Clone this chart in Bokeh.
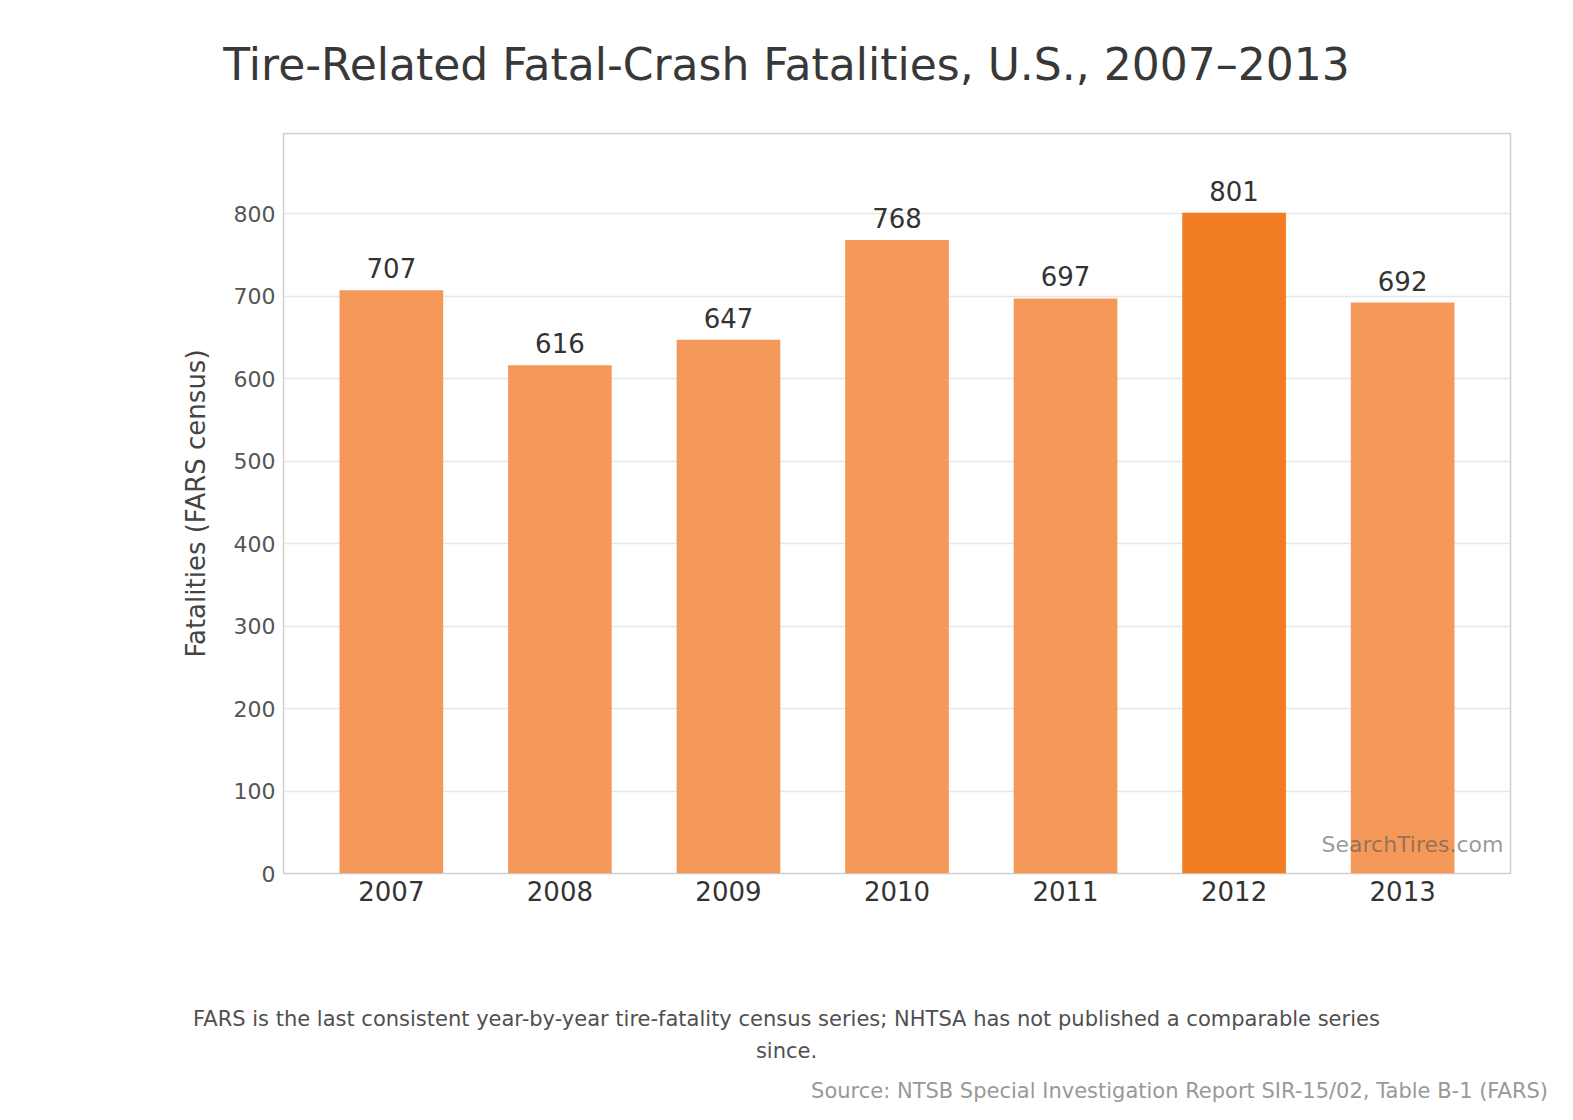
from bokeh.plotting import figure
from bokeh.models import Label, Range1d, FixedTicker, ColumnDataSource, Div
from bokeh.layouts import column
from bokeh.embed import file_html
from bokeh.resources import INLINE

years = ["2007", "2008", "2009", "2010", "2011", "2012", "2013"]
fatalities = [707, 616, 647, 768, 697, 801, 692]
highlight_year = "2012"
y_ticks = [0, 100, 200, 300, 400, 500, 600, 700, 800]

title_text = "Tire-Related Fatal-Crash Fatalities, U.S., 2007\u20132013"
note_line1 = "FARS is the last consistent year-by-year tire-fatality census series; NHTSA has not published a comparable series"
note_line2 = "since."
source_text = "Source: NTSB Special Investigation Report SIR-15/02, Table B-1 (FARS)"
watermark = "SearchTires.com"

FONT = "DejaVu Sans"
W = 1573
TOP_H = 110          # title block height
FIG_H = 850          # figure block height
BOT_H = 1120 - TOP_H - FIG_H
FL, FR = 283, 1510   # frame left/right (page px)
FT, FB = 133, 873    # frame top/bottom (page px)

xs = list(range(len(years)))
colors = ["#F27C22" if y == highlight_year else "#F5995A" for y in years]
src = ColumnDataSource(dict(x=xs, top=fatalities, color=colors,
                            lab=[str(v) for v in fatalities]))

p = figure(width=W, height=FIG_H, output_backend="svg", toolbar_location=None,
           x_range=Range1d(-0.64, len(years) - 1 + 0.64),
           y_range=Range1d(0, 897),
           min_border_left=FL, min_border_right=W - FR,
           min_border_top=FT - TOP_H, min_border_bottom=TOP_H + FIG_H - FB)
p.background_fill_color = "white"
p.border_fill_color = "white"
p.outline_line_color = "#cfcfcf"
p.outline_line_width = 1.5

p.vbar(x="x", top="top", width=0.615, bottom=0, color="color", line_color=None, source=src)
p.text(x="x", y="top", text="lab", source=src, y_offset=-22,
       text_align="center", text_baseline="alphabetic",
       text_font={"value": FONT}, text_font_size="26px", text_color="#333333")

p.xgrid.grid_line_color = None
p.ygrid.grid_line_color = "#e6e6e6"
p.ygrid.grid_line_width = 1.5

p.xaxis.ticker = FixedTicker(ticks=xs)
p.xaxis.major_label_overrides = {i: y for i, y in enumerate(years)}
p.xaxis.major_label_text_font = FONT
p.xaxis.major_label_text_font_size = "26px"
p.xaxis.major_label_text_color = "#333333"
p.xaxis.major_label_standoff = 7

p.yaxis.ticker = FixedTicker(ticks=y_ticks)
p.yaxis.major_label_text_font = FONT
p.yaxis.major_label_text_font_size = "22px"
p.yaxis.major_label_text_color = "#555555"
p.yaxis.major_label_standoff = 8
p.yaxis.axis_label = "Fatalities (FARS census)"
p.yaxis.axis_label_text_font = FONT
p.yaxis.axis_label_text_font_size = "26px"
p.yaxis.axis_label_text_font_style = "normal"
p.yaxis.axis_label_text_color = "#444444"
p.yaxis.axis_label_standoff = 20

for ax in (p.xaxis, p.yaxis):
    ax.axis_line_color = None
    ax.major_tick_line_color = None
    ax.minor_tick_line_color = None
    ax.major_tick_out = 0
    ax.major_tick_in = 0
    ax.minor_tick_out = 0
    ax.minor_tick_in = 0

p.add_layout(Label(x=FR - FL - 7, y=29, x_units="screen", y_units="screen",
                   text=watermark, text_font=FONT, text_font_size="22px",
                   text_color="#555555", text_alpha=0.6,
                   text_align="right", text_baseline="middle"))


def line_html(text, top, size, color, align="center", right=None):
    if align == "center":
        pos = "left:0;width:%dpx;text-align:center;" % W
    else:
        pos = "right:%dpx;text-align:right;" % right
    return ('<div style="position:absolute;%s top:%dpx;transform:translateY(-50%%);'
            'font-family:\'%s\';font-size:%s;color:%s;white-space:nowrap;line-height:1.2;">%s</div>'
            % (pos, top, FONT, size, color, text))


title_div = Div(width=W, height=TOP_H, margin=0,
                text='<div style="position:relative;width:%dpx;height:%dpx;">%s</div>'
                % (W, TOP_H, line_html(title_text, 65, "44px", "#383838")))

y0 = TOP_H + FIG_H
foot_div = Div(width=W, height=BOT_H, margin=0,
               text='<div style="position:relative;width:%dpx;height:%dpx;">%s%s%s</div>'
               % (W, BOT_H,
                  line_html(note_line1, 1020 - y0, "21px", "#505050"),
                  line_html(note_line2, 1052 - y0, "21px", "#505050"),
                  line_html(source_text, 1092 - y0, "21px", "#999999", align="right", right=W - 1548)))

p.margin = 0
layout = column(title_div, p, foot_div, spacing=0, margin=0)
open("out.html", "w").write(file_html(layout, INLINE))
